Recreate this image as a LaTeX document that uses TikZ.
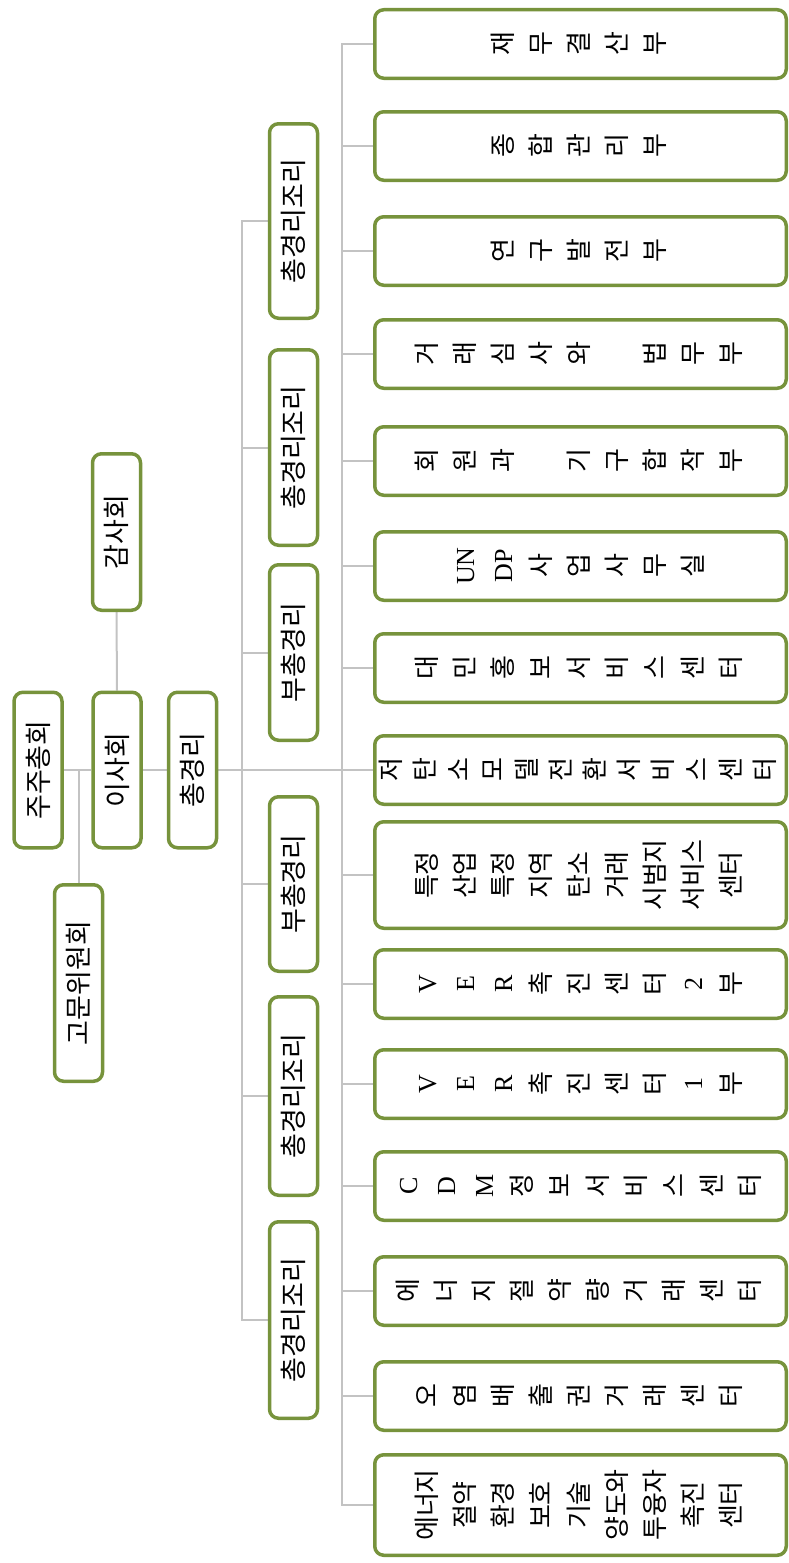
\documentclass[tikz,border=0pt]{standalone}
\usepackage{fontspec}
\usepackage{graphicx}
\setmainfont{Noto Sans CJK KR}
\newfontfamily\latn{Liberation Serif}
\usetikzlibrary{backgrounds}
\definecolor{boxgreen}{RGB}{119,147,60}
\definecolor{linegray}{RGB}{195,195,195}
\newcommand{\upright}[1]{\rotatebox{90}{#1}}
\newcommand{\colstack}[1]{\rotatebox{90}{\begin{tabular}{@{}c@{}}#1\end{tabular}}}

\begin{document}
\begin{tikzpicture}[x=1pt,y=-1pt,
    box/.style={draw=boxgreen,line width=3.5pt,rounded corners=9pt,fill=white,inner sep=0pt},
    head/.style={box,minimum width=48pt,font=\fontsize{27pt}{30pt}\selectfont},
    dept/.style={box,minimum width=411.5pt,minimum height=68.5pt,font=\fontsize{26pt}{38pt}\selectfont},
    link/.style={draw=linegray,line width=2pt}]
\useasboundingbox (0,0) rectangle (789,1563);

% top of the chart
\node[head,minimum height=155.5pt] (jz) at (38,770) {\upright{주주총회}};
\node[head,minimum height=155.5pt] (isa) at (117,770) {\upright{이사회}};
\node[head,minimum height=155.5pt] (zgl) at (192.5,770) {\upright{총경리}};
\node[head,minimum height=196.5pt] (gm) at (78.5,983) {\upright{고문위원회}};
\node[head,minimum height=156.5pt] (gs) at (116.5,532) {\upright{감사회}};

% assistants
\node[head,minimum height=194.5pt] (a1) at (293.5,221) {\upright{총경리조리}};
\node[head,minimum height=195.5pt] (a2) at (293.5,447.5) {\upright{총경리조리}};
\node[head,minimum height=175.5pt] (a3) at (293.5,652.5) {\upright{부총경리}};
\node[head,minimum height=174.5pt] (a4) at (293.5,884) {\upright{부총경리}};
\node[head,minimum height=198.5pt] (a5) at (293.5,1096) {\upright{총경리조리}};
\node[head,minimum height=196.5pt] (a6) at (293.5,1320) {\upright{총경리조리}};

% departments
\node[dept] (d1) at (580.5,44) {\colstack{재\\무\\결\\산\\부}};
\node[dept] (d2) at (580.5,146) {\colstack{종\\합\\관\\리\\부}};
\node[dept] (d3) at (580.5,251) {\colstack{연\\구\\발\\전\\부}};
\node[dept] (d4) at (580.5,354) {\colstack{거\\래\\심\\사\\와\\ \\법\\무\\부}};
\node[dept] (d5) at (580.5,461) {\colstack{회\\원\\과\\ \\기\\구\\합\\작\\부}};
\node[dept] (d6) at (580.5,566) {\colstack{{\latn UN}\\{\latn DP}\\사\\업\\사\\무\\실}};
\node[dept] (d7) at (580.5,668) {\colstack{대\\민\\홍\\보\\서\\비\\스\\센\\터}};
\node[dept,font=\fontsize{26pt}{34pt}\selectfont] (d8) at (580.5,770) {\colstack{저\\탄\\소\\모\\델\\전\\환\\서\\비\\스\\센\\터}};
\node[dept,minimum height=106.5pt] (d9) at (580.5,875) {\colstack{특정\\산업\\특정\\지역\\탄소\\거래\\시범지\\서비스\\센터}};
\node[dept] (d10) at (580.5,984) {\colstack{{\latn V}\\{\latn E}\\{\latn R}\\촉\\진\\센\\터\\{\latn 2}\\부}};
\node[dept] (d11) at (580.5,1084) {\colstack{{\latn V}\\{\latn E}\\{\latn R}\\촉\\진\\센\\터\\{\latn 1}\\부}};
\node[dept] (d12) at (580.5,1186) {\colstack{{\latn C}\\{\latn D}\\{\latn M}\\정\\보\\서\\비\\스\\센\\터}};
\node[dept] (d13) at (580.5,1291) {\colstack{에\\너\\지\\절\\약\\량\\거\\래\\센\\터}};
\node[dept] (d14) at (580.5,1396) {\colstack{오\\염\\배\\출\\권\\거\\래\\센\\터}};
\node[dept,minimum height=100.5pt] (d15) at (580.5,1505) {\colstack{에너지\\절약\\환경\\보호\\기술\\양도와\\투융자\\촉진\\센터}};

\coordinate (abus) at (242,770);
\coordinate (dbus) at (342,770);

\begin{scope}[on background layer]
\draw[link] (jz.east) -- (isa.west);
\draw[link] (isa.east) -- (zgl.west);
\draw[link] (gs.south) -- (isa.north);
\draw[link] (gm.north) -- (gm.north |- jz.east);
\draw[link] (zgl.east) -- (d8.west);
\foreach \a in {a1,a2,a3,a4,a5,a6}
  \draw[link] (\a.west) -| (abus);
\foreach \d in {d1,d2,d3,d4,d5,d6,d7,d9,d10,d11,d12,d13,d14,d15}
  \draw[link] (\d.west) -| (dbus);
\end{scope}
\end{tikzpicture}
\end{document}
